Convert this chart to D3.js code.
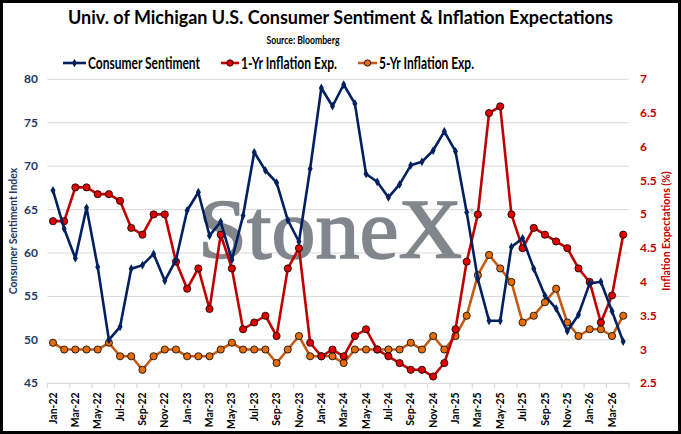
<!DOCTYPE html>
<html>
<head>
<meta charset="utf-8">
<script src="https://cdn.jsdelivr.net/npm/d3@7"></script>
<style>
  body { margin: 0; background: #fff; }
  svg { display: block; font-family: Lato, "Open Sans", sans-serif; }
</style>
</head>
<body>
<div id="chart"></div>
<script>
// months on the x axis
var months = ["Jan-22","Feb-22","Mar-22","Apr-22","May-22","Jun-22","Jul-22","Aug-22","Sep-22","Oct-22","Nov-22","Dec-22",
              "Jan-23","Feb-23","Mar-23","Apr-23","May-23","Jun-23","Jul-23","Aug-23","Sep-23","Oct-23","Nov-23","Dec-23",
              "Jan-24","Feb-24","Mar-24","Apr-24","May-24","Jun-24","Jul-24","Aug-24","Sep-24","Oct-24","Nov-24","Dec-24",
              "Jan-25","Feb-25","Mar-25","Apr-25","May-25","Jun-25","Jul-25","Aug-25","Sep-25","Oct-25","Nov-25","Dec-25",
              "Jan-26","Feb-26","Mar-26","Apr-26"];

// consumer sentiment index (left axis)
var sentiment = [67.2, 62.8, 59.4, 65.2, 58.4, 50.0, 51.5, 58.2, 58.6, 59.9, 56.8, 59.2,
                 64.9, 67.0, 62.0, 63.6, 59.2, 64.3, 71.6, 69.5, 68.1, 63.8, 61.3, 69.7,
                 79.0, 76.9, 79.4, 77.2, 69.1, 68.2, 66.4, 67.9, 70.1, 70.5, 71.8, 74.0,
                 71.7, 64.7, 57.0, 52.2, 52.2, 60.7, 61.7, 58.2, 55.1, 53.6, 51.0, 52.9,
                 56.5, 56.7, 53.3, 49.8];

// 1-yr inflation expectations, % (right axis)
var infl1yr = [4.9, 4.9, 5.4, 5.4, 5.3, 5.3, 5.2, 4.8, 4.7, 5.0, 5.0, 4.3,
               3.9, 4.2, 3.6, 4.7, 4.2, 3.3, 3.4, 3.5, 3.2, 4.2, 4.5, 3.1,
               2.9, 3.0, 2.9, 3.2, 3.3, 3.0, 2.9, 2.8, 2.7, 2.7, 2.6, 2.8,
               3.3, 4.3, 5.0, 6.5, 6.6, 5.0, 4.5, 4.8, 4.7, 4.6, 4.5, 4.2,
               4.0, 3.4, 3.8, 4.7];

// 5-yr inflation expectations, % (right axis)
var infl5yr = [3.1, 3.0, 3.0, 3.0, 3.0, 3.1, 2.9, 2.9, 2.7, 2.9, 3.0, 3.0,
               2.9, 2.9, 2.9, 3.0, 3.1, 3.0, 3.0, 3.0, 2.8, 3.0, 3.2, 2.9,
               2.9, 2.9, 2.8, 3.0, 3.0, 3.0, 3.0, 3.0, 3.1, 3.0, 3.2, 3.0,
               3.2, 3.5, 4.1, 4.4, 4.2, 4.0, 3.4, 3.5, 3.7, 3.9, 3.4, 3.2,
               3.3, 3.3, 3.2, 3.5];

var leftTicks = [45, 50, 55, 60, 65, 70, 75, 80];
var rightTicks = [2.5, 3, 3.5, 4, 4.5, 5, 5.5, 6, 6.5, 7];

var width = 681, height = 434;
var plot = {left: 47.4, right: 628.8, top: 79.3, bottom: 383.3};

var navy = "#002060", red = "#C00000", orange = "#C55A11";

var svg = d3.select("#chart").append("svg")
            .attr("width", width)
            .attr("height", height);

// frame
svg.append("rect")
   .attr("x", 1.5).attr("y", 1.5)
   .attr("width", width - 3).attr("height", height - 3)
   .attr("fill", "#fff")
   .attr("stroke", "#000")
   .attr("stroke-width", 3);

//scales
var x = d3.scalePoint()
          .domain(months)
          .range([plot.left, plot.right])
          .padding(0.5);
var step = x.step();

var yL = d3.scaleLinear().domain([45, 80]).range([plot.bottom, plot.top]);
var yR = d3.scaleLinear().domain([2.5, 7]).range([plot.bottom, plot.top]);

// gridlines
svg.append("g").selectAll("line")
   .data(leftTicks.slice(1))
   .enter().append("line")
   .attr("x1", plot.left).attr("x2", plot.right)
   .attr("y1", d => yL(d)).attr("y2", d => yL(d))
   .attr("stroke", "#d9d9d9")
   .attr("stroke-width", 1);

// watermark
svg.append("text")
   .attr("x", 198).attr("y", 258)
   .attr("font-family", "'Liberation Serif', 'DejaVu Serif', serif")
   .attr("font-size", 85)
   .attr("textLength", 264)
   .attr("lengthAdjust", "spacingAndGlyphs")
   .attr("fill", "#82868c")
   .attr("stroke", "#82868c")
   .attr("stroke-width", 1.6)
   .text("StoneX");
svg.append("text")
   .attr("x", 469).attr("y", 214)
   .attr("font-size", 7)
   .attr("fill", "#9a9da2")
   .text("\u00AE");

// bottom axis line + ticks every two months
svg.append("line")
   .attr("x1", plot.left).attr("x2", plot.right)
   .attr("y1", plot.bottom).attr("y2", plot.bottom)
   .attr("stroke", "#d9d9d9").attr("stroke-width", 1.2);

var tickIdx = months.map((m, i) => i).filter(i => i % 2 == 0);
svg.append("g").selectAll("line")
   .data(tickIdx.concat([months.length]))
   .enter().append("line")
   .attr("x1", i => plot.left + i * step).attr("x2", i => plot.left + i * step)
   .attr("y1", plot.bottom).attr("y2", plot.bottom + 5)
   .attr("stroke", "#d9d9d9").attr("stroke-width", 1.2);

svg.append("g").selectAll("text")
   .data(tickIdx)
   .enter().append("text")
   .attr("transform", i => "translate(" + (x(months[i]) + 3.6) + "," + (plot.bottom + 9) + ") rotate(-90)")
   .attr("text-anchor", "end")
   .attr("font-size", 10.5)
   .attr("font-weight", "bold")
   .attr("fill", "#000")
   .text(i => months[i]);

// left tick labels
svg.append("g").selectAll("text")
   .data(leftTicks)
   .enter().append("text")
   .attr("x", 38).attr("y", d => yL(d) + 4)
   .attr("text-anchor", "end")
   .attr("font-size", 12)
   .attr("font-weight", "bold")
   .attr("fill", "#1F3864")
   .text(d => d);

// right tick labels
svg.append("g").selectAll("text")
   .data(rightTicks)
   .enter().append("text")
   .attr("x", 640).attr("y", d => yR(d) + 4)
   .attr("text-anchor", "start")
   .attr("font-size", 12)
   .attr("font-weight", "bold")
   .attr("fill", red)
   .text(d => d);

// axis titles
svg.append("text")
   .attr("transform", "translate(17,231) rotate(-90)")
   .attr("text-anchor", "middle")
   .attr("font-size", 10.5)
   .attr("font-weight", "bold")
   .attr("fill", "#1F3864")
   .text("Consumer Sentiment Index");

svg.append("text")
   .attr("transform", "translate(670,231) rotate(-90)")
   .attr("text-anchor", "middle")
   .attr("font-size", 10.5)
   .attr("font-weight", "bold")
   .attr("fill", red)
   .text("Inflation Expectations (%)");

// lines
var lineL = d3.line().x((d, i) => x(months[i])).y(d => yL(d));
var lineR = d3.line().x((d, i) => x(months[i])).y(d => yR(d));

function drawCircles(data, fill) {
  svg.append("g").selectAll("circle")
     .data(data)
     .enter().append("circle")
     .attr("cx", (d, i) => x(months[i]))
     .attr("cy", d => yR(d))
     .attr("r", 3.6)
     .attr("fill", fill)
     .attr("stroke", "#000")
     .attr("stroke-width", 0.8);
}

// 5-yr
svg.append("path")
   .datum(infl5yr)
   .attr("d", lineR)
   .attr("fill", "none")
   .attr("stroke", orange)
   .attr("stroke-width", 2.6)
   .attr("stroke-linejoin", "round");
drawCircles(infl5yr, "#E46C0A");

// 1-yr
svg.append("path")
   .datum(infl1yr)
   .attr("d", lineR)
   .attr("fill", "none")
   .attr("stroke", red)
   .attr("stroke-width", 2.6)
   .attr("stroke-linejoin", "round");
drawCircles(infl1yr, "#E00000");

// sentiment
svg.append("path")
   .datum(sentiment)
   .attr("d", lineL)
   .attr("fill", "none")
   .attr("stroke", navy)
   .attr("stroke-width", 2.6)
   .attr("stroke-linejoin", "round");

var diamond = d3.symbol().type(d3.symbolDiamond).size(22);
svg.append("g").selectAll("path")
   .data(sentiment)
   .enter().append("path")
   .attr("d", diamond)
   .attr("transform", (d, i) => "translate(" + x(months[i]) + "," + yL(d) + ")")
   .attr("fill", navy);

// title + source
svg.append("text")
   .attr("x", 340.5).attr("y", 24)
   .attr("text-anchor", "middle")
   .attr("font-size", 18.5)
   .attr("font-weight", "bold")
   .attr("textLength", 545)
   .attr("lengthAdjust", "spacingAndGlyphs")
   .attr("fill", "#000")
   .text("Univ. of Michigan U.S. Consumer Sentiment & Inflation Expectations");

svg.append("text")
   .attr("x", 266.5).attr("y", 44)
   .attr("font-size", 10.5)
   .attr("font-weight", "bold")
   .attr("textLength", 73)
   .attr("lengthAdjust", "spacingAndGlyphs")
   .attr("fill", "#000")
   .text("Source: Bloomberg");

// legend
var legend = [
  {name: "Consumer Sentiment", color: navy, x1: 63, x2: 86, tx: 88, tw: 112, mark: "diamond"},
  {name: "1-Yr Inflation Exp.", color: red, x1: 221, x2: 239, tx: 241, tw: 96, mark: "circle", fill: "#E00000"},
  {name: "5-Yr Inflation Exp.", color: orange, x1: 358, x2: 377, tx: 379, tw: 95, mark: "circle", fill: "#E46C0A"}
];
var ly = 63;
var lg = svg.append("g");
legend.forEach(function(d) {
  lg.append("line")
    .attr("x1", d.x1).attr("x2", d.x2)
    .attr("y1", ly).attr("y2", ly)
    .attr("stroke", d.color).attr("stroke-width", 2.6);
  if (d.mark == "diamond") {
    lg.append("path")
      .attr("d", diamond)
      .attr("transform", "translate(" + (d.x1 + d.x2) / 2 + "," + ly + ")")
      .attr("fill", d.color);
  } else {
    lg.append("circle")
      .attr("cx", (d.x1 + d.x2) / 2).attr("cy", ly)
      .attr("r", 3.2)
      .attr("fill", d.fill)
      .attr("stroke", "#000").attr("stroke-width", 0.8);
  }
  lg.append("text")
    .attr("x", d.tx).attr("y", ly + 6)
    .attr("font-size", 17)
    .attr("font-weight", "bold")
    .attr("textLength", d.tw)
    .attr("lengthAdjust", "spacingAndGlyphs")
    .attr("fill", "#000")
    .text(d.name);
});
</script>
</body>
</html>
